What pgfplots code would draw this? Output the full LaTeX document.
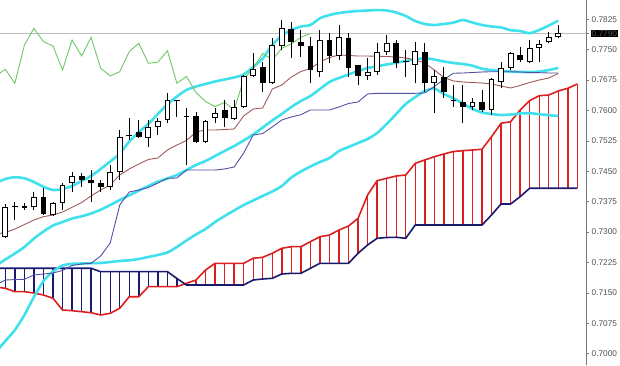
\documentclass[border=0pt]{standalone}
\usepackage{pgfplots}
\pgfplotsset{compat=1.18}
\usepackage{pgfplotstable}
\usepackage{fontspec}
\setmainfont{Liberation Sans}
\definecolor{bb}{RGB}{64,224,236}
\definecolor{spanA}{RGB}{220,30,30}
\definecolor{spanB}{RGB}{25,25,110}
\definecolor{tenkan}{RGB}{160,90,90}
\definecolor{kijun}{RGB}{80,80,165}
\definecolor{chikou}{RGB}{110,200,100}
\definecolor{axisgray}{RGB}{120,120,120}
\definecolor{labgray}{RGB}{80,80,80}

\pgfplotstableread{
i O H L C
0 0.72886 0.73693 0.72854 0.73627
1 0.73619 0.73750 0.73298 0.73644
2 0.73651 0.73718 0.73545 0.73587
3 0.73612 0.73997 0.73545 0.73873
4 0.73858 0.74088 0.73422 0.73446
5 0.73422 0.73743 0.73397 0.73718
6 0.73710 0.74211 0.73545 0.74162
7 0.74204 0.74490 0.73997 0.74384
8 0.74384 0.74458 0.74120 0.74285
9 0.74285 0.74532 0.73750 0.74219
10 0.74219 0.74285 0.73997 0.74120
11 0.74120 0.74655 0.74039 0.74475
12 0.74475 0.75519 0.74285 0.75353
13 0.75383 0.75815 0.75272 0.75371
14 0.75477 0.75766 0.75321 0.75353
15 0.75314 0.75766 0.75107 0.75600
16 0.75600 0.75815 0.75395 0.75741
17 0.75766 0.76432 0.75692 0.76259
18 0.76247 0.76259 0.75847 0.76234
19 0.75840 0.76054 0.74655 0.75864
20 0.75864 0.75970 0.75198 0.75230
21 0.75230 0.75766 0.75198 0.75748
22 0.75807 0.76062 0.75692 0.75946
23 0.76012 0.76259 0.75600 0.75807
24 0.75783 0.76259 0.75766 0.76079
25 0.76079 0.76876 0.76062 0.76851
26 0.76851 0.77418 0.76826 0.77016
27 0.77066 0.77204 0.76464 0.76671
28 0.76671 0.77781 0.76654 0.77616
29 0.77591 0.78233 0.77492 0.78028
30 0.78003 0.78191 0.77288 0.77697
31 0.77697 0.77986 0.77327 0.77591
32 0.77591 0.77821 0.76671 0.76999
33 0.76957 0.77986 0.76834 0.77739
34 0.77739 0.77905 0.77164 0.77344
35 0.77344 0.78109 0.77246 0.77806
36 0.77781 0.77912 0.76834 0.77041
37 0.77122 0.77122 0.76629 0.76851
38 0.76851 0.77288 0.76752 0.76957
39 0.76957 0.77658 0.76876 0.77451
40 0.77451 0.77863 0.77369 0.77658
41 0.77658 0.77739 0.77041 0.77164
42 0.77216 0.77492 0.76834 0.77192
43 0.77122 0.77697 0.76671 0.77475
44 0.77451 0.77658 0.76456 0.76671
45 0.76671 0.76999 0.75931 0.76839
46 0.76834 0.77073 0.76308 0.76444
47 0.76247 0.76629 0.76094 0.76222
48 0.76202 0.76629 0.75684 0.76094
49 0.76094 0.76301 0.76012 0.76202
50 0.76202 0.76506 0.75970 0.76012
51 0.76012 0.76794 0.75889 0.76770
52 0.76710 0.77204 0.76548 0.77041
53 0.77041 0.77451 0.76999 0.77411
54 0.77369 0.77574 0.77204 0.77246
55 0.77204 0.77739 0.77164 0.77534
56 0.77534 0.77739 0.77204 0.77641
57 0.77682 0.77944 0.77658 0.77806
58 0.77806 0.78109 0.77781 0.77900
}\candles

\pgfplotstableread{
i ten kij up mid lo
-1 0.72953 0.71695 0.74211 0.72164 0.70042
0 0.72990 0.71818 0.74310 0.72324 0.70313
1 0.73076 0.71828 0.74354 0.72472 0.70585
2 0.73187 0.71835 0.74327 0.72632 0.70955
3 0.73298 0.71942 0.74236 0.72842 0.71399
4 0.73380 0.71966 0.74118 0.73015 0.71793
5 0.73422 0.71991 0.74039 0.73163 0.72028
6 0.73496 0.72053 0.74063 0.73249 0.72176
7 0.73612 0.72176 0.74137 0.73335 0.72218
8 0.73730 0.72213 0.74261 0.73390 0.72225
9 0.73891 0.72230 0.74384 0.73459 0.72233
10 0.74039 0.72410 0.74557 0.73552 0.72238
11 0.74162 0.72731 0.74742 0.73668 0.72262
12 0.74409 0.73668 0.74939 0.73792 0.72287
13 0.74557 0.73989 0.75235 0.73905 0.72304
14 0.74680 0.74039 0.75469 0.74024 0.72336
15 0.74791 0.74100 0.75667 0.74137 0.72386
16 0.74828 0.74211 0.75914 0.74243 0.72435
17 0.75025 0.74327 0.76148 0.74322 0.72497
18 0.75149 0.74335 0.76345 0.74409 0.72632
19 0.75260 0.74532 0.76506 0.74532 0.72793
20 0.75469 0.74532 0.76592 0.74655 0.72941
21 0.75519 0.74532 0.76654 0.74754 0.73076
22 0.75519 0.74532 0.76715 0.74877 0.73249
23 0.75531 0.74557 0.76765 0.75001 0.73397
24 0.75543 0.74606 0.76814 0.75124 0.73533
25 0.75864 0.74951 0.76888 0.75260 0.73668
26 0.76037 0.75395 0.77073 0.75408 0.73780
27 0.76062 0.75432 0.77283 0.75580 0.73891
28 0.76530 0.75593 0.77616 0.75753 0.74002
29 0.76629 0.75766 0.77850 0.75914 0.74137
30 0.76826 0.75840 0.77986 0.76086 0.74347
31 0.76962 0.75896 0.78072 0.76234 0.74495
32 0.77036 0.76012 0.78109 0.76358 0.74618
33 0.77196 0.76012 0.78275 0.76530 0.74729
34 0.77307 0.76012 0.78356 0.76703 0.74828
35 0.77369 0.76086 0.78405 0.76802 0.75001
36 0.77357 0.76173 0.78435 0.76888 0.75099
37 0.77344 0.76210 0.78455 0.76974 0.75198
38 0.77344 0.76407 0.78467 0.77048 0.75297
39 0.77337 0.76424 0.78477 0.77090 0.75445
40 0.77332 0.76424 0.78467 0.77135 0.75667
41 0.77320 0.76424 0.78418 0.77179 0.75914
42 0.77295 0.76424 0.78331 0.77221 0.76160
43 0.77246 0.76424 0.78208 0.77258 0.76333
44 0.77172 0.76432 0.78134 0.77290 0.76481
45 0.76999 0.76592 0.78109 0.77258 0.76543
46 0.76814 0.76765 0.78134 0.77209 0.76407
47 0.76728 0.76918 0.78168 0.77172 0.76301
48 0.76703 0.76925 0.78233 0.77147 0.76173
49 0.76691 0.76937 0.78171 0.77105 0.76037
50 0.76678 0.76950 0.78109 0.77031 0.75951
51 0.76654 0.76957 0.78072 0.76999 0.75914
52 0.76604 0.76957 0.78048 0.76974 0.75889
53 0.76555 0.76957 0.77981 0.76962 0.75901
54 0.76617 0.76950 0.77961 0.76950 0.75926
55 0.76691 0.76937 0.77907 0.76950 0.75933
56 0.76752 0.76933 0.77986 0.76960 0.75909
57 0.76802 0.76925 0.78097 0.76999 0.75884
58 0.76913 0.76925 0.78215 0.77048 0.75864
}\ind

\pgfplotstableread{
i A B
-1 0.71645 0.72107
0 0.71613 0.72107
1 0.71530 0.72107
2 0.71530 0.72107
3 0.71497 0.72107
4 0.71448 0.72107
5 0.71367 0.72107
6 0.71078 0.72107
7 0.71061 0.72107
8 0.71036 0.72107
9 0.71011 0.72107
10 0.70955 0.72023
11 0.70997 0.72023
12 0.71120 0.72023
13 0.71406 0.72023
14 0.71406 0.72023
15 0.71653 0.72023
16 0.71653 0.72023
17 0.71653 0.72023
18 0.71653 0.71855
19 0.71737 0.71695
20 0.71818 0.71695
21 0.72065 0.71695
22 0.72230 0.71695
23 0.72230 0.71695
24 0.72230 0.71695
25 0.72230 0.71695
26 0.72354 0.71818
27 0.72378 0.71843
28 0.72477 0.71860
29 0.72600 0.71966
30 0.72640 0.71983
31 0.72640 0.71983
32 0.72763 0.72107
33 0.72886 0.72230
34 0.72928 0.72230
35 0.73052 0.72230
36 0.73150 0.72230
37 0.73340 0.72477
38 0.73915 0.72682
39 0.74268 0.72847
40 0.74327 0.72867
41 0.74384 0.72872
42 0.74409 0.72847
43 0.74697 0.73175
44 0.74779 0.73175
45 0.74860 0.73175
46 0.74927 0.73175
47 0.74988 0.73175
48 0.75008 0.73175
49 0.75025 0.73175
50 0.75043 0.73175
51 0.75353 0.73422
52 0.75684 0.73693
53 0.75724 0.73693
54 0.76012 0.73873
55 0.76242 0.74081
56 0.76365 0.74081
57 0.76382 0.74081
58 0.76481 0.74081
59 0.76548 0.74081
60 0.76654 0.74081
}\cloud

\pgfplotstableread{
i v
-1 0.76851
0 0.77016
1 0.76671
2 0.77616
3 0.78028
4 0.77697
5 0.77591
6 0.76999
7 0.77739
8 0.77344
9 0.77806
10 0.77041
11 0.76851
12 0.76957
13 0.77451
14 0.77658
15 0.77164
16 0.77192
17 0.77475
18 0.76671
19 0.76839
20 0.76444
21 0.76222
22 0.76094
23 0.76202
24 0.76012
25 0.76770
26 0.77041
27 0.77411
28 0.77246
29 0.77534
30 0.77641
31 0.77806
32 0.77900
}\chikou

\pgfplotsset{
  vbar/.style 2 args={draw=none, mark=none, forget plot,
    error bars/.cd, y dir=plus, y explicit, error mark=none,
    error bar style={draw=#1, line width=#2}},
}

\begin{document}
\begin{tikzpicture}
\useasboundingbox (0,0) rectangle (620pt,365pt);
\begin{axis}[
  at={(0pt,0pt)}, anchor=south west,
  scale only axis, width=586pt, height=365pt,
  xmin=-0.56, xmax=60.91, ymin=0.69721, ymax=0.78726,
  axis x line=none,
  axis y line*=right,
  axis line style={draw=axisgray, line width=0.8pt},
  ytick={0.7000,0.7075,0.7150,0.7225,0.7300,0.7375,0.7450,0.7525,0.7600,0.7675,0.7750,0.7825},
  tick align=outside, major tick length=3pt,
  ytick style={draw=axisgray, line width=0.6pt},
  yticklabel style={font=\fontsize{8.3}{10}\selectfont, text=labgray, inner sep=1pt, xshift=1.5pt,
    /pgf/number format/.cd, fixed, fixed zerofill, precision=4, assume math mode=true},
  extra y ticks={0.7790},
  extra y tick labels={0.7790},
  extra y tick style={tick label style={fill=black, text=white, inner sep=1.2pt}},
]
% cloud hatch
\addplot[restrict expr to domain={\thisrow{A}-\thisrow{B}}{0:1}, vbar={spanA}{1.4pt}]
  table[x=i, y=B, y error plus expr={max(\thisrow{A}-\thisrow{B},0)}] {\cloud};
\addplot[restrict expr to domain={\thisrow{B}-\thisrow{A}}{0:1}, vbar={spanB}{1.4pt}]
  table[x=i, y=A, y error plus expr={max(\thisrow{B}-\thisrow{A},0)}] {\cloud};
\addplot[spanA, line width=1.6pt, mark=none] table[x=i, y=A] {\cloud};
\addplot[spanB, line width=1.6pt, mark=none] table[x=i, y=B] {\cloud};
% price line
\addplot[gray!50, line width=0.7pt, mark=none] coordinates {(-1,0.7790) (62,0.7790)};
% indicators
\addplot[bb, line width=2.6pt, mark=none, smooth, tension=0.4] table[x=i, y=up] {\ind};
\addplot[bb, line width=2.6pt, mark=none, smooth, tension=0.4] table[x=i, y=mid] {\ind};
\addplot[bb, line width=2.6pt, mark=none, smooth, tension=0.4] table[x=i, y=lo] {\ind};
\addplot[tenkan, line width=0.9pt, mark=none] table[x=i, y=ten] {\ind};
\addplot[kijun, line width=0.9pt, mark=none] table[x=i, y=kij] {\ind};
\addplot[chikou, line width=0.9pt, mark=none] table[x=i, y=v] {\chikou};
% candles
\addplot[vbar={black}{1pt}]
  table[x=i, y=L, y error plus expr={\thisrow{H}-\thisrow{L}}] {\candles};
\addplot[vbar={black}{5.8pt}]
  table[x=i, y expr={min(\thisrow{O},\thisrow{C})}, y error plus expr={max(abs(\thisrow{C}-\thisrow{O}),0.00025)}] {\candles};
\addplot[restrict expr to domain={\thisrow{C}-\thisrow{O}}{0.0005:1}, vbar={white}{3.8pt}]
  table[x=i, y expr={\thisrow{O}+0.00025}, y error plus expr={max(\thisrow{C}-\thisrow{O}-0.0005,0)}] {\candles};
\end{axis}
\end{tikzpicture}
\end{document}
